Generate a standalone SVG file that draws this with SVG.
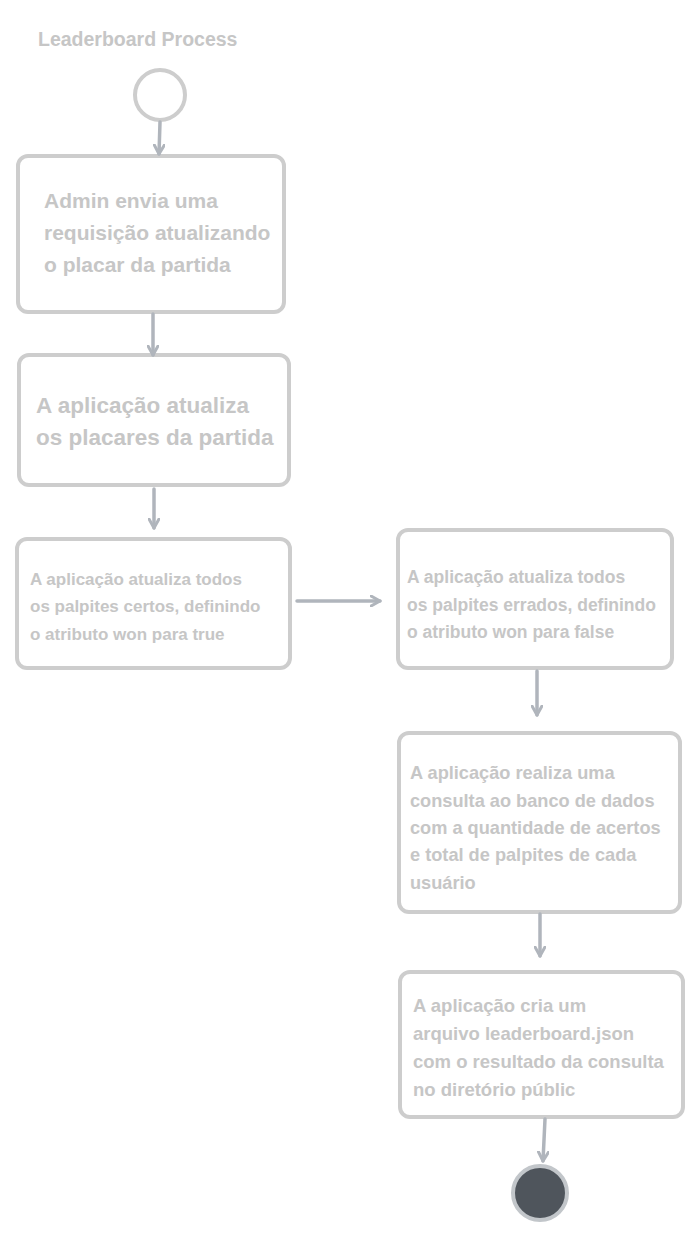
<svg xmlns="http://www.w3.org/2000/svg" width="700" height="1239" viewBox="0 0 700 1239">
<defs>
<style>
.box{fill:#ffffff;stroke:#cdcdcd;stroke-width:4}
.t{font-family:"Liberation Sans",Arial,sans-serif;fill:#c6c6c6;font-weight:bold}
.c{stroke:#b0b5bc;stroke-width:3.5;fill:none;stroke-linecap:round}
</style>
<marker id="ah" viewBox="0 0 12 12" refX="10" refY="6" markerWidth="12" markerHeight="12" markerUnits="userSpaceOnUse" orient="auto">
<path d="M1,1 L10,6 L1,11" fill="none" stroke="#b0b5bc" stroke-width="3" stroke-linecap="round" stroke-linejoin="round"/>
</marker>
</defs>
<rect width="700" height="1239" fill="#ffffff"/>
<text class="t" x="38" y="46" font-size="19.5">Leaderboard Process</text>
<g id="start"><circle cx="160" cy="95" r="25" fill="#ffffff" stroke="#cdcdcd" stroke-width="4"/></g>
<g id="n1"><rect class="box" x="18" y="156" width="266" height="156" rx="10"/>
<text class="t" font-size="21"><tspan x="44" y="208">Admin envia uma</tspan><tspan x="44" y="240">requisição atualizando</tspan><tspan x="44" y="272">o placar da partida</tspan></text></g>
<g id="n2"><rect class="box" x="19" y="355" width="270" height="130" rx="10"/>
<text class="t" font-size="22.5"><tspan x="36" y="413">A aplicação atualiza</tspan><tspan x="36" y="445">os placares da partida</tspan></text></g>
<g id="n3"><rect class="box" x="17" y="539" width="273" height="129" rx="10"/>
<text class="t" font-size="17"><tspan x="30" y="585">A aplicação atualiza todos</tspan><tspan x="30" y="612">os palpites certos, definindo</tspan><tspan x="30" y="640">o atributo won para true</tspan></text></g>
<g id="n4"><rect class="box" x="398" y="530" width="274" height="138" rx="10"/>
<text class="t" font-size="17.5"><tspan x="407" y="583">A aplicação atualiza todos</tspan><tspan x="407" y="611">os palpites errados, definindo</tspan><tspan x="407" y="638">o atributo won para false</tspan></text></g>
<g id="n5"><rect class="box" x="399" y="733" width="281" height="179" rx="10"/>
<text class="t" font-size="18.2"><tspan x="410" y="779">A aplicação realiza uma</tspan><tspan x="410" y="807">consulta ao banco de dados</tspan><tspan x="410" y="834">com a quantidade de acertos</tspan><tspan x="410" y="861">e total de palpites de cada</tspan><tspan x="410" y="889">usuário</tspan></text></g>
<g id="n6"><rect class="box" x="400" y="972" width="283" height="145" rx="10"/>
<text class="t" font-size="18.5"><tspan x="413" y="1012">A aplicação cria um</tspan><tspan x="413" y="1040">arquivo leaderboard.json</tspan><tspan x="413" y="1068">com o resultado da consulta</tspan><tspan x="413" y="1096">no diretório públic</tspan></text></g>
<g id="end"><circle cx="540" cy="1193" r="27" fill="#4f555c" stroke="#c2c6ca" stroke-width="4"/></g>
<g id="connectors">
<path class="c" d="M160,122 L159,154" marker-end="url(#ah)"/>
<path class="c" d="M153,314 L153,355" marker-end="url(#ah)"/>
<path class="c" d="M154,489 L154,528" marker-end="url(#ah)"/>
<path class="c" d="M297,601 L380,601" marker-end="url(#ah)"/>
<path class="c" d="M537,671 L537,715" marker-end="url(#ah)"/>
<path class="c" d="M540,914 L540,956" marker-end="url(#ah)"/>
<path class="c" d="M545,1119 L543,1161" marker-end="url(#ah)"/>
</g>
</svg>
